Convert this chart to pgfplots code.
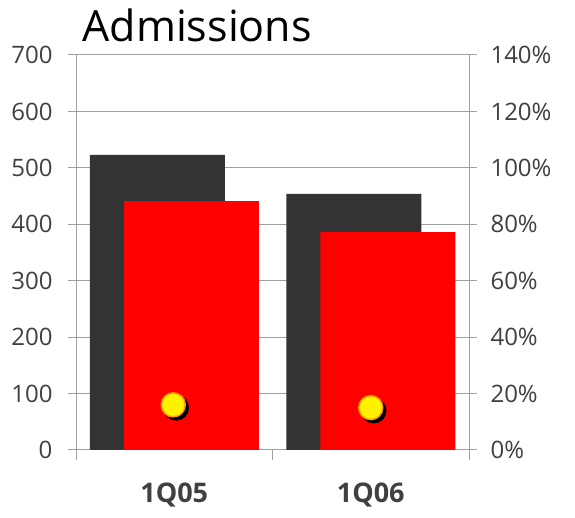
\documentclass[border=0pt]{standalone}
\usepackage{pgfplots}
\pgfplotsset{compat=1.18}
\usepackage{fontspec}
\setmainfont{Open Sans}
\definecolor{darkbar}{RGB}{51,51,51}
\definecolor{axgray}{RGB}{160,160,160}
\definecolor{txtgray}{RGB}{64,64,64}
\begin{document}
\begin{tikzpicture}[x=1pt,y=1pt]
\useasboundingbox (0,0) rectangle (575,518);
\begin{axis}[
  at={(76pt,68pt)}, anchor=south west,
  scale only axis, width=393pt, height=395pt,
  xmin=-0.5, xmax=1.5, ymin=0, ymax=700,
  axis y line*=left, axis x line*=bottom,
  axis line style={axgray, line width=1pt},
  ybar, bar width=135pt,
  ytick={0,100,...,700},
  xtick={0,1}, xticklabels={1Q05,1Q06},
  major x tick style={draw=none},
  minor xtick={-0.5,0.5,1.5},
  minor x tick style={axgray, line width=1pt},
  tick align=outside,
  major tick length=8pt, minor tick length=10pt,
  y tick style={axgray, line width=1pt},
  ymajorgrids, grid style={axgray, line width=1pt},
  /pgf/number format/assume math mode=true,
  yticklabel style={font=\fontsize{24}{28}\selectfont, text=txtgray, xshift=-12pt},
  xticklabel style={font=\fontsize{27}{32}\selectfont\bfseries, text=txtgray, yshift=-21pt},
  clip=false,
]
\addplot[fill=darkbar, draw=none, bar shift=-17pt] coordinates {(0,523) (1,454)};
\addplot[fill=red, draw=none, bar shift=17pt] coordinates {(0,441) (1,386)};
\end{axis}
\begin{axis}[
  at={(76pt,68pt)}, anchor=south west,
  scale only axis, width=393pt, height=395pt,
  xmin=-0.5, xmax=1.5, ymin=0, ymax=140,
  axis y line*=right, axis x line=none,
  axis line style={axgray, line width=1pt},
  ytick={0,20,...,140},
  yticklabel={\pgfmathprintnumber{\tick}\%},
  tick align=outside, major tick length=8pt,
  y tick style={axgray, line width=1pt},
  /pgf/number format/assume math mode=true,
  yticklabel style={font=\fontsize{24}{28}\selectfont, text=txtgray, xshift=10pt},
  clip=false,
]
\addplot[only marks, mark=*, mark size=12.5pt, draw=black, fill=black, mark options={xshift=3pt, yshift=-3pt}] coordinates {(-0.005,16) (1,15)};
\addplot[only marks, mark=*, mark size=12pt, mark options={draw=orange!80!yellow, fill=yellow, line width=1.5pt}] coordinates {(-0.005,16) (1,15)};
\end{axis}
\node[anchor=base west, font=\fontsize{43}{52}\selectfont, text=black] at (79,476) {Admissions};
\end{tikzpicture}
\end{document}
